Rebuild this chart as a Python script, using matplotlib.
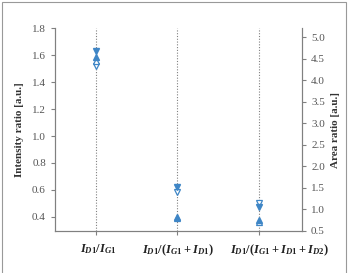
import numpy as np
import matplotlib
matplotlib.use("Agg")
import matplotlib.pyplot as plt
import matplotlib.transforms as mtransforms
from matplotlib.patches import Rectangle

plt.rcParams['font.family'] = 'Liberation Serif'
plt.rcParams['mathtext.fontset'] = 'custom'
plt.rcParams['mathtext.it'] = 'Liberation Serif:italic:bold'
plt.rcParams['mathtext.rm'] = 'Liberation Serif:bold'
plt.rcParams['mathtext.bf'] = 'Liberation Serif:bold'

categories = [r'$I_{D1}/I_{G1}$', r'$I_{D1}/(I_{G1}+I_{D1})$', r'$I_{D1}/(I_{G1}+I_{D1}+I_{D2})$']

# intensity ratios (left axis, filled markers)
intensity_down = [1.63, 0.62, 0.47]
intensity_up = [1.585, 0.40, 0.38]
# area ratios (right axis, open markers)
area_down = [4.33, 1.41, 1.15]
area_up = [4.45, 0.80, 0.71]

blue = '#3f86c6'
grey = '#808080'
text_grey = '#555555'

fig = plt.figure(figsize=(3.48, 2.73), dpi=100)
ax = fig.add_axes([0.158, 0.154, 0.710, 0.743])
ax2 = ax.twinx()
# filled markers drawn above the open ones
ax.set_zorder(ax2.get_zorder() + 1)
ax.patch.set_visible(False)

x = np.arange(len(categories))
for xi in x:
	ax2.axvline(xi, color=grey, ls=(0, (1, 1.5)), lw=0.8, zorder=1)

ax.plot(x, intensity_down, 'v', color=blue, ms=4, ls='none', zorder=3)
ax.plot(x, intensity_up, '^', color=blue, ms=4, ls='none', zorder=3)
ax2.plot(x, area_down, 'v', mfc='white', mec=blue, mew=0.9, ms=4.5, ls='none', zorder=3)
ax2.plot(x, area_up, '^', mfc='white', mec=blue, mew=0.9, ms=4.5, ls='none', zorder=3)

ax.set_xlim(-0.5, 2.53)
ax.set_ylim(0.296, 1.8)
ax2.set_ylim(0.5, 5.21)
ax.set_yticks(np.arange(0.4, 1.81, 0.2))
ax.set_yticklabels(['%.1f' % v for v in np.arange(0.4, 1.81, 0.2)])
ax2.set_yticks(np.arange(0.5, 5.01, 0.5))
ax2.set_yticklabels(['%.1f' % v for v in np.arange(0.5, 5.01, 0.5)])
ax.set_xticks(x)
ax.set_xticklabels(categories)

for a in (ax, ax2):
	a.spines['top'].set_visible(False)
	for s in a.spines.values():
		s.set_color(grey)
		s.set_linewidth(0.8)
	a.tick_params(colors=grey, labelcolor=text_grey, labelsize=8, length=3, width=0.8)
ax.tick_params(axis='x', labelcolor='#222222', labelsize=9, pad=5)

# last label sits a bit right of its tick in the original
shifts = [0.03, 0.01, 0.21]
for lab, dx in zip(ax.get_xticklabels(), shifts):
	lab.set_transform(lab.get_transform() + mtransforms.ScaledTranslation(dx, 0, fig.dpi_scale_trans))

ax.set_ylabel('Intensity ratio [a.u.]', fontsize=8, fontweight='bold', color='#333333', labelpad=6)
ax2.set_ylabel('Area ratio [a.u.]', fontsize=8, fontweight='bold', color='#333333', labelpad=4)

fig.patches.append(Rectangle((2 / 348, -0.1), 344 / 348, 1.1 - 2 / 273, transform=fig.transFigure,
	fill=False, ec='#999999', lw=0.8))

fig.savefig('out.png', dpi=100)
